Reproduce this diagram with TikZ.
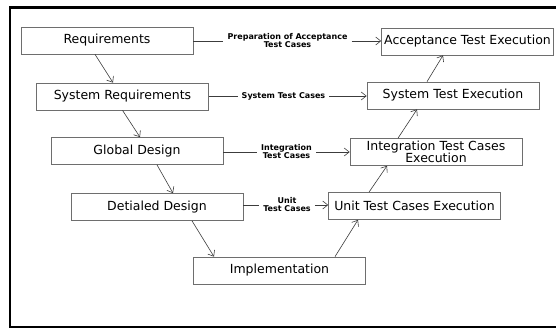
\documentclass[tikz,border=0pt]{standalone}
\usepackage{fontspec}
\usepackage{tikz}
\usetikzlibrary{arrows.meta, positioning, calc}
\newfontfamily\verd{DejaVu Sans}
\definecolor{vmBox}{HTML}{6E6E6E}
\definecolor{vmLine}{HTML}{3C3C3C}

\begin{document}
\begin{tikzpicture}[
  x=1pt, y=-1pt,
  stage/.style={draw=vmBox, line width=0.7pt, fill=white, minimum width=172pt, minimum height=27pt,
                align=center, inner sep=0.5pt, font=\verd\fontsize{12.5}{12.5}\selectfont},
  note/.style={align=center, inner sep=4pt, font=\verd\bfseries\fontsize{8}{8}\selectfont},
  link/.style={draw=vmLine, line width=0.6pt},
  flow/.style={link, -{Straight Barb[length=5pt, width=8pt]}},
]
  \useasboundingbox (0,0) rectangle (556,329);
  \draw[line width=2.6pt, line cap=rect] (556,7.5) -- (10,7.5) -- (10,327) -- (556,327);

  \node[stage] (req) at (107,40.5) {Requirements};
  \node[stage] (sysreq) at (122.5,96.5) {System Requirements};
  \node[stage] (glob) at (137,151) {Global Design};
  \node[stage] (det) at (157,207) {Detialed Design};
  \node[stage] (impl) at (279.5,270.5) {Implementation};
  \node[stage] (unit) at (414.5,206) {Unit Test Cases Execution};
  \node[stage] (integ) at (436,152) {Integration Test Cases\\Execution};
  \node[stage] (systest) at (453,95.5) {System Test Execution};
  \node[stage] (accept) at (467.5,41.5) {Acceptance Test Execution};

  \node[note] (preplab) at (287.5,41) {Preparation of Acceptance\\Test Cases};
  \node[note] (syslab) at (283.5,96) {System Test Cases};
  \node[note] (intlab) at (286.5,152) {Integration\\Test Cases};
  \node[note] (unitlab) at (287,205) {Unit\\Test Cases};

  \draw[link] (req.east |- preplab) -- (preplab.west);
  \draw[flow] (preplab.east) -- (accept.west |- preplab);
  \draw[link] (sysreq.east |- syslab) -- (syslab.west);
  \draw[flow] (syslab.east) -- (systest.west |- syslab);
  \draw[link] (glob.east |- intlab) -- (intlab.west);
  \draw[flow] (intlab.east) -- (integ.west |- intlab);
  \draw[link] (det.east |- unitlab) -- (unitlab.west);
  \draw[flow] (unitlab.east) -- (unit.west |- unitlab);

  \draw[flow] ([xshift=-12pt]req.south) -- ([xshift=-9.5pt]sysreq.north);
  \draw[flow] (sysreq.south) -- ([xshift=3pt]glob.north);
  \draw[flow] ([xshift=20pt]glob.south) -- ([xshift=16pt]det.north);
  \draw[flow] ([xshift=35pt]det.south) -- ([xshift=-65.5pt]impl.north);
  \draw[flow] ([xshift=55.5pt]impl.north) -- ([xshift=-56.5pt]unit.south);
  \draw[flow] ([xshift=-45.5pt]unit.north) -- ([xshift=-49pt]integ.south);
  \draw[flow] ([xshift=-38pt]integ.north) -- ([xshift=-36pt]systest.south);
  \draw[flow] ([xshift=-26pt]systest.north) -- ([xshift=-24.5pt]accept.south);
\end{tikzpicture}
\end{document}
